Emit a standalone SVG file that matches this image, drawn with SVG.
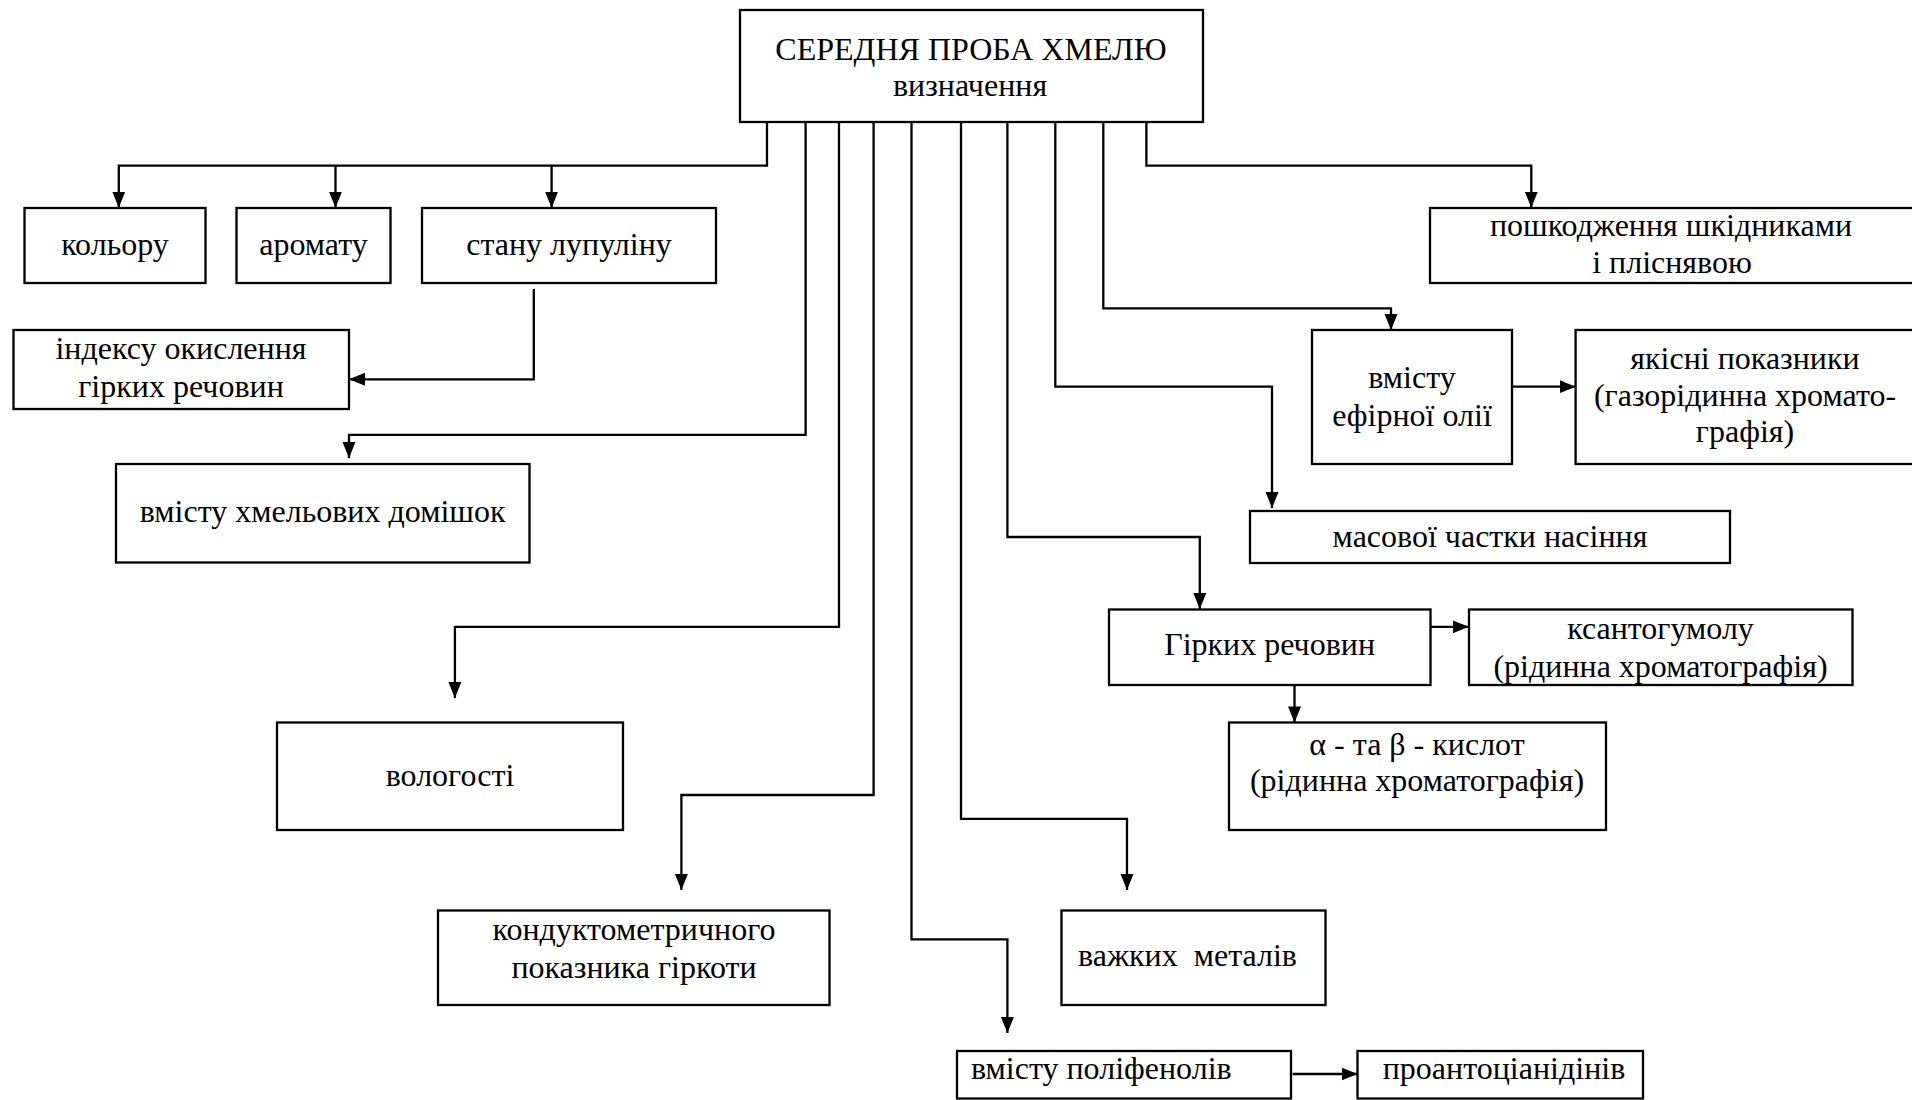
<svg xmlns="http://www.w3.org/2000/svg" width="1912" height="1100" viewBox="0 0 1912 1100">
<style>
.box{fill:#fff;stroke:#000;stroke-width:2.3}
.t{font-family:"Liberation Serif","Times New Roman",serif;font-size:32px;fill:#000;text-anchor:middle;white-space:pre}
.c{fill:none;stroke:#000;stroke-width:2.3;marker-end:url(#ah)}
</style>
<defs>
<marker id="ah" markerUnits="userSpaceOnUse" markerWidth="17" markerHeight="14" refX="16" refY="7" orient="auto">
<path d="M0,0.5 L16,7 L0,13.5 z" fill="#000"/>
</marker>
</defs>
<rect width="1912" height="1100" fill="#fff"/>
<g id="connectors">
<path class="c" d="M767,122 V165.7 H118.8 V207.7"/>
<path class="c" d="M335.5,165.7 V207.7"/>
<path class="c" d="M551.6,165.7 V207.7"/>
<path class="c" d="M533.8,289 V379.3 H349"/>
<path class="c" d="M805.6,122 V434.8 H349 V458"/>
<path class="c" d="M839,122 V626.8 H454.9 V698"/>
<path class="c" d="M873.6,122 V795 H681.4 V890"/>
<path class="c" d="M911.5,122 V939.4 H1007.4 V1033"/>
<path class="c" d="M961,122 V818.8 H1127 V890"/>
<path class="c" d="M1007.4,122 V537 H1199.8 V609"/>
<path class="c" d="M1055.3,122 V386.7 H1272 V508"/>
<path class="c" d="M1103.3,122 V308.3 H1391 V330"/>
<path class="c" d="M1146.4,122 V165.7 H1531.3 V207.7"/>
<path class="c" d="M1512,386.7 H1575.6"/>
<path class="c" d="M1430.5,626.8 H1468.7"/>
<path class="c" d="M1294.5,685 V722.4"/>
<path class="c" d="M1292.7,1074 H1357.6"/>
</g>
<g id="n-root"><rect class="box" x="740" y="10" width="463" height="112"/><text class="t" x="971" y="60">СЕРЕДНЯ ПРОБА ХМЕЛЮ</text><text class="t" x="970" y="96">визначення</text></g>
<g id="n-kolir"><rect class="box" x="24.5" y="208" width="181" height="75"/><text class="t" x="115" y="255">кольору</text></g>
<g id="n-aromat"><rect class="box" x="236.5" y="208" width="154" height="75"/><text class="t" x="313.5" y="255">аромату</text></g>
<g id="n-lupulin"><rect class="box" x="422" y="208" width="294" height="75"/><text class="t" x="569" y="255">стану лупуліну</text></g>
<g id="n-index"><rect class="box" x="13.5" y="330" width="335.5" height="79"/><text class="t" x="181" y="359">індексу окислення</text><text class="t" x="181" y="397">гірких речовин</text></g>
<g id="n-domishky"><rect class="box" x="116" y="464" width="413.5" height="98.5"/><text class="t" x="322.6" y="522">вмісту хмельових домішок</text></g>
<g id="n-volohist"><rect class="box" x="277" y="722.5" width="346" height="107.5"/><text class="t" x="450" y="786">вологості</text></g>
<g id="n-konduktometr"><rect class="box" x="438" y="910.5" width="391.5" height="94.5"/><text class="t" x="634" y="940">кондуктометричного</text><text class="t" x="634" y="978">показника гіркоти</text></g>
<g id="n-metaly"><rect class="box" x="1061.5" y="910.5" width="264" height="94.5"/><text class="t" x="1078" y="966" style="text-anchor:start">важких  металів</text></g>
<g id="n-polifenoly"><rect class="box" x="957" y="1051" width="334" height="47.5"/><text class="t" x="971" y="1079" style="text-anchor:start">вмісту поліфенолів</text></g>
<g id="n-proantotsianidiny"><rect class="box" x="1357.5" y="1051" width="285.5" height="47.5"/><text class="t" x="1504" y="1079">проантоціанідінів</text></g>
<g id="n-hirki"><rect class="box" x="1109" y="609.5" width="321.5" height="75.5"/><text class="t" x="1269.6" y="655">Гірких речовин</text></g>
<g id="n-ksantohumol"><rect class="box" x="1469" y="609.5" width="383.5" height="75.5"/><text class="t" x="1660.5" y="639">ксантогумолу</text><text class="t" x="1660.5" y="677">(рідинна хроматографія)</text></g>
<g id="n-kysloty"><rect class="box" x="1229" y="722.5" width="377" height="107.5"/><text class="t" x="1417" y="755">α - та β - кислот</text><text class="t" x="1417" y="791">(рідинна хроматографія)</text></g>
<g id="n-nasinnia"><rect class="box" x="1250" y="511" width="480" height="52"/><text class="t" x="1490" y="547">масової частки насіння</text></g>
<g id="n-efirna"><rect class="box" x="1312" y="330" width="200" height="134"/><text class="t" x="1412" y="388">вмісту</text><text class="t" x="1412" y="426">ефірної олії</text></g>
<g id="n-yakisni"><rect class="box" x="1575.6" y="330" width="345" height="134"/><text class="t" x="1745" y="369">якісні показники</text><text class="t" x="1745" y="406">(газорідинна хромато-</text><text class="t" x="1745" y="442">графія)</text></g>
<g id="n-poshkodzhennia"><rect class="box" x="1430" y="208" width="490" height="75"/><text class="t" x="1671" y="236">пошкодження шкідниками</text><text class="t" x="1672" y="273">і пліснявою</text></g>
</svg>
